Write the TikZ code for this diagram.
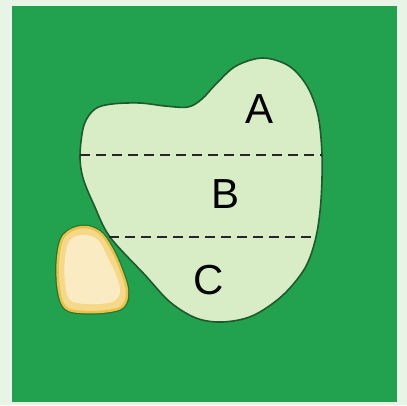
\documentclass[tikz,border=0pt]{standalone}
\usepackage{fontspec}
\setmainfont{Liberation Sans}
\definecolor{bgpale}{HTML}{E8F5E6}
\definecolor{leaf}{HTML}{22A24E}
\definecolor{blobfill}{HTML}{D8ECC6}
\definecolor{edgegreen}{HTML}{1F5A2C}
\definecolor{grainedge}{HTML}{EDC144}
\definecolor{grainfill}{HTML}{F6D88A}
\definecolor{graincore}{HTML}{FBEBC2}
\begin{document}
\begin{tikzpicture}[x=1pt,y=-1pt,
  lbl/.style={font=\fontsize{42}{42}\selectfont, text=black, inner sep=0pt},
  cutline/.style={draw=black!85, dash pattern=on 10pt off 6pt, line width=1.8pt}]
\useasboundingbox (0,0) rectangle (407,405);
\fill[bgpale] (0,0) rectangle (407,405);
\fill[leaf] (12,6) rectangle (397,402);
% main blob
\draw[edgegreen, line width=1.6pt, fill=blobfill] plot[smooth cycle, tension=0.55] coordinates {
 (80,155) (84,125) (95,109) (112,104) (140,103) (165,106) (188,107) (202,99)
 (216,84) (236,66) (263,58) (289,66) (307,86) (318,115) (322,155) (321,200)
 (316,237) (305,268) (282,296) (252,316) (222,322) (196,318) (170,302)
 (145,275) (110,237) (94,205) (83,178)};
% grain
\draw[edgegreen!60!leaf, line width=5pt] plot[smooth cycle, tension=0.6] coordinates {
 (82,227) (99,232) (111,248) (121,270) (127,291) (123,306) (108,311)
 (84,312) (66,308) (59,290) (58,260) (64,236)};
\draw[grainedge, line width=2.5pt, fill=grainfill] plot[smooth cycle, tension=0.6] coordinates {
 (82,227) (99,232) (111,248) (121,270) (127,291) (123,306) (108,311)
 (84,312) (66,308) (59,290) (58,260) (64,236)};
\fill[graincore] plot[smooth cycle, tension=0.6] coordinates {
 (84,235) (98,240) (107,256) (116,275) (120,292) (112,302) (88,304)
 (70,300) (65,282) (65,258) (70,240)};
% dashed lines
\coordinate (d1l) at (80,155); \coordinate (d1r) at (322,155);
\coordinate (d2l) at (109,237); \coordinate (d2r) at (316,237);
\draw[cutline] (d1l) -- (d1r);
\draw[cutline, line width=1.5pt] (d2l) -- (d2r);
% labels
\node[lbl] (A) at (260,109) {A};
\node[lbl] (B) at (226,194) {B};
\node[lbl] (C) at (209,280) {C};
\end{tikzpicture}
\end{document}
